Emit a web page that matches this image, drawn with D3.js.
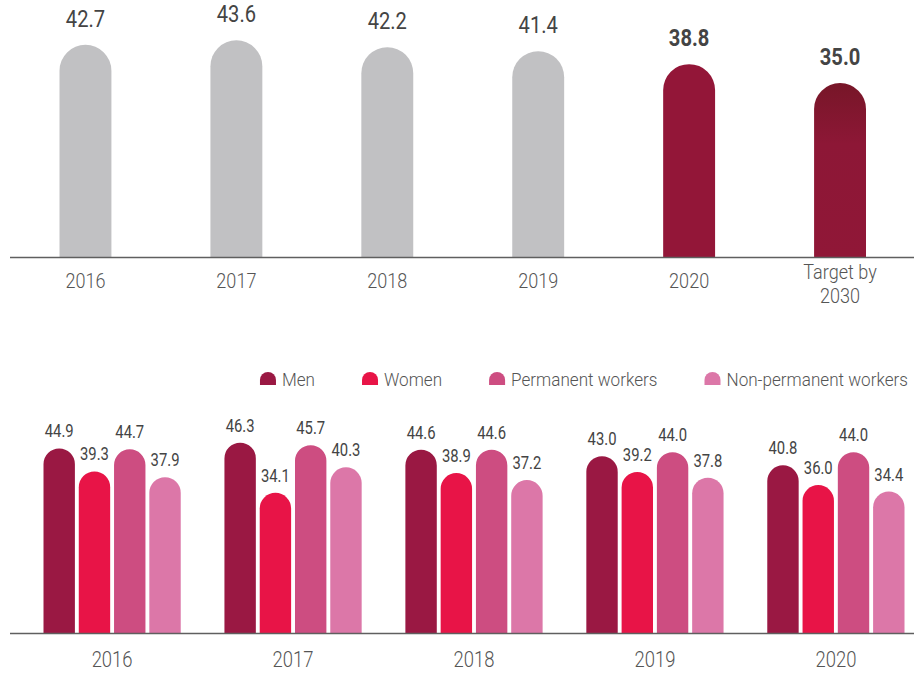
<!DOCTYPE html>
<html>
<head>
<meta charset="utf-8">
<script src="https://cdn.jsdelivr.net/npm/d3@7"></script>
<style>
  html, body { margin: 0; padding: 0; background: #fff; }
  svg { display: block; }
  text { font-family: Roboto, "Open Sans", sans-serif; }
</style>
</head>
<body>
<svg id="chart" width="914" height="673"></svg>
<script>
// Overall values by year, with the 2030 target
const overallCategories = ["2016", "2017", "2018", "2019", "2020", "Target by 2030"];
const overallValues = [42.7, 43.6, 42.2, 41.4, 38.8, 35.0];

// Breakdown by group
const groupYears = ["2016", "2017", "2018", "2019", "2020"];
const groupSeries = ["Men", "Women", "Permanent workers", "Non-permanent workers"];
const menValues = [44.9, 46.3, 44.6, 43.0, 40.8];
const womenValues = [39.3, 34.1, 38.9, 39.2, 36.0];
const permanentValues = [44.7, 45.7, 44.6, 44.0, 44.0];
const nonPermanentValues = [37.9, 40.3, 37.2, 37.8, 34.4];

const seriesValues = [menValues, womenValues, permanentValues, nonPermanentValues];
const seriesColors = ["#9a1843", "#e81447", "#cd4d81", "#dc77a8"];

const svg = d3.select("#chart");
const W = 914;

// Bar with a rounded (semicircular) top and a flat base
function domeBar(x, yTopEdge, w, base) {
  const r = w / 2;
  const p = d3.path();
  p.moveTo(x, base);
  p.lineTo(x, yTopEdge + r);
  p.arc(x + r, yTopEdge + r, r, Math.PI, 0);
  p.lineTo(x + w, base);
  p.closePath();
  return p.toString();
}

// Condensed-looking label: horizontally squeezed real text
function label(g, x, y, txt, opts) {
  return g.append("text")
    .attr("transform", `translate(${x},${y}) scale(${opts.sx},1)`)
    .attr("text-anchor", opts.anchor || "middle")
    .attr("font-size", opts.size)
    .attr("font-weight", opts.weight || 400)
    .attr("fill", opts.fill || "#444")
    .text(txt);
}

const defs = svg.append("defs");
const grad = defs.append("linearGradient")
  .attr("id", "targetGrad").attr("x1", 0).attr("y1", 0).attr("x2", 0).attr("y2", 1);
grad.append("stop").attr("offset", "0%").attr("stop-color", "#771628");
grad.append("stop").attr("offset", "35%").attr("stop-color", "#8d1736");
grad.append("stop").attr("offset", "100%").attr("stop-color", "#901737");

// ---------- Top chart: overall ----------
const overallG = svg.append("g");
const baseTop = 257;
const xTop = d3.scaleBand().domain(overallCategories).range([59.5, 866])
  .paddingInner(0.656).paddingOuter(0);
const yTop = d3.scaleLinear().domain([0, 50]).range([baseTop, baseTop - 248.5]);

const fillTop = (d, i) => i < 4 ? "#c1c1c3" : (i === 4 ? "#931638" : "url(#targetGrad)");

overallG.selectAll("path.bar").data(overallValues).join("path")
  .attr("class", "bar")
  .attr("d", (d, i) => domeBar(xTop(overallCategories[i]), yTop(d), xTop.bandwidth(), baseTop))
  .attr("fill", fillTop);

overallValues.forEach((d, i) => {
  const cx = xTop(overallCategories[i]) + xTop.bandwidth() / 2;
  label(overallG, cx, yTop(d) - 18, d.toFixed(1), {
    size: 24, sx: 0.84, weight: i >= 4 ? 700 : 400, fill: "#444"
  });
});

overallG.append("line")
  .attr("x1", 10).attr("x2", W).attr("y1", baseTop + 0.5).attr("y2", baseTop + 0.5)
  .attr("stroke", "#5f5f5f").attr("stroke-width", 1.5);

overallCategories.forEach(c => {
  const cx = xTop(c) + xTop.bandwidth() / 2;
  if (c.startsWith("Target")) {
    label(overallG, cx, 279, "Target by", { size: 21, sx: 0.86, weight: 300, fill: "#555" });
    label(overallG, cx, 303, "2030", { size: 21, sx: 0.86, weight: 300, fill: "#555" });
  } else {
    label(overallG, cx, 288, c, { size: 21, sx: 0.86, weight: 300, fill: "#555" });
  }
});

// ---------- Legend ----------
const legend = svg.append("g");
const legendY = 379;
const legendRight = 908;
const markerW = 16, markerGap = 6, itemGap = 47;
// measure label widths, then lay items out right-aligned
const tmp = legend.append("text").attr("font-size", 18).attr("font-weight", 300);
const widths = groupSeries.map(s => { tmp.text(s); return tmp.node().getComputedTextLength() * 0.95; });
tmp.remove();
const totalW = d3.sum(widths) + groupSeries.length * (markerW + markerGap) + (groupSeries.length - 1) * itemGap;
let lx = legendRight - totalW;
groupSeries.forEach((s, i) => {
  legend.append("path")
    .attr("d", domeBar(lx, legendY - 7, markerW, legendY + 6))
    .attr("fill", seriesColors[i]);
  label(legend, lx + markerW + markerGap, legendY + 7, s,
    { size: 18, sx: 0.95, weight: 300, fill: "#555", anchor: "start" });
  lx += markerW + markerGap + widths[i] + itemGap;
});

// ---------- Bottom chart: by group ----------
const groupG = svg.append("g");
const baseBot = 633;
const x0 = d3.scaleBand().domain(groupYears).range([43.5, 904.5])
  .paddingInner(0.2416).paddingOuter(0);
const x1 = d3.scaleBand().domain(groupSeries).range([0, x0.bandwidth()])
  .paddingInner(0.11).paddingOuter(0);
const yBot = d3.scaleLinear().domain([0, 50]).range([baseBot, baseBot - 205.5]);

const cells = [];
groupYears.forEach((yr, yi) => {
  groupSeries.forEach((s, si) => {
    cells.push({ year: yr, series: s, si, value: seriesValues[si][yi] });
  });
});

groupG.selectAll("path.bar").data(cells).join("path")
  .attr("class", "bar")
  .attr("d", d => domeBar(x0(d.year) + x1(d.series), yBot(d.value), x1.bandwidth(), baseBot))
  .attr("fill", d => seriesColors[d.si]);

cells.forEach(d => {
  const cx = x0(d.year) + x1(d.series) + x1.bandwidth() / 2;
  label(groupG, cx, yBot(d.value) - 11, d.value.toFixed(1),
    { size: 19, sx: 0.78, weight: 400, fill: "#444" });
});

groupG.append("line")
  .attr("x1", 10).attr("x2", W).attr("y1", baseBot + 0.5).attr("y2", baseBot + 0.5)
  .attr("stroke", "#5f5f5f").attr("stroke-width", 1.5);

groupYears.forEach(yr => {
  const cx = x0(yr) + x0.bandwidth() / 2;
  label(groupG, cx, 667, yr, { size: 22, sx: 0.84, weight: 300, fill: "#555" });
});
</script>
</body>
</html>
